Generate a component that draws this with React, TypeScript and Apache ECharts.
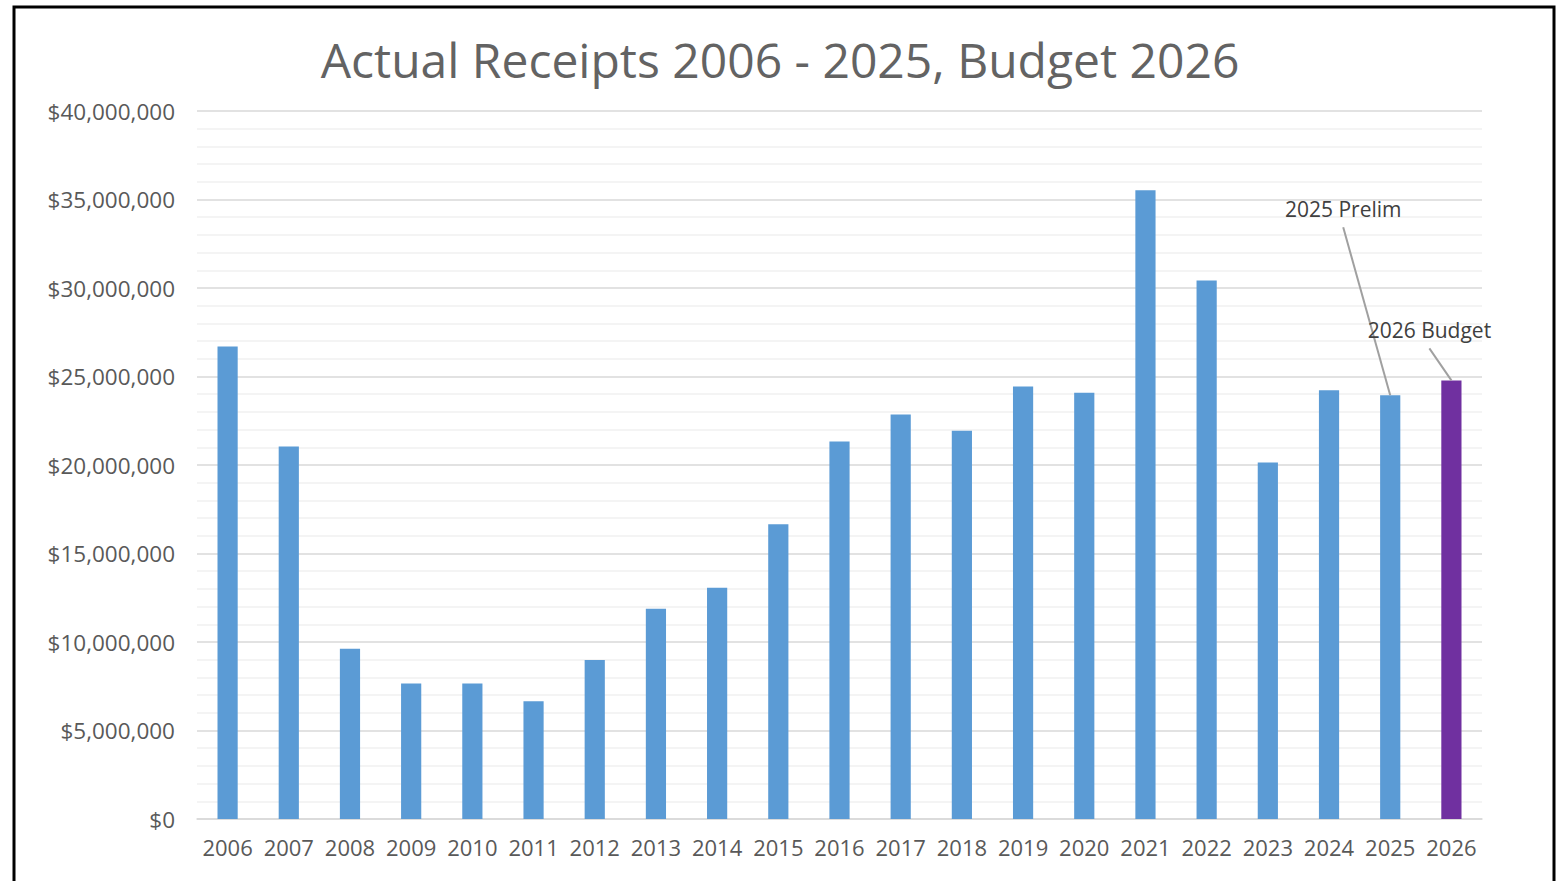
import React, { useEffect, useRef } from "react";
import * as echarts from "echarts";

const years = ["2006","2007","2008","2009","2010","2011","2012","2013","2014","2015","2016","2017","2018","2019","2020","2021","2022","2023","2024","2025","2026"];
const receipts = [26700000,21050000,9620000,7650000,7650000,6650000,8980000,11880000,13070000,16650000,21330000,22850000,21930000,24430000,24080000,35520000,30420000,20140000,24220000,23940000,24780000];
const budgetIndex = 20;
const annotations = [
  { index: 19, text: "2025 Prelim", dx: -47, dy: -186 },
  { index: 20, text: "2026 Budget", dx: -22, dy: -50 },
];

const FONT = "'Open Sans', 'Noto Sans', sans-serif";

export default function App() {
  const ref = useRef<HTMLDivElement>(null);
  useEffect(() => {
    document.body.style.margin = "0";
    const chart = echarts.init(ref.current!, null, { renderer: "svg" });
    chart.setOption({
      animation: false,
      backgroundColor: "#ffffff",
      title: {
        text: "Actual Receipts 2006 - 2025, Budget 2026",
        left: "center",
        top: 30,
        textStyle: { fontFamily: FONT, fontSize: 48, fontWeight: "normal", color: "#636363" },
      },
      grid: { left: 197, right: 78, top: 111, bottom: 62 },
      xAxis: {
        type: "category",
        data: years,
        axisLine: { lineStyle: { color: "#D9D9D9", width: 1.5 } },
        axisTick: { show: false },
        axisLabel: { fontFamily: FONT, fontSize: 22, color: "#595959", margin: 17, interval: 0 },
      },
      yAxis: {
        type: "value",
        min: 0,
        max: 40000000,
        interval: 5000000,
        axisLine: { show: false },
        axisTick: { show: false },
        axisLabel: {
          fontFamily: FONT,
          fontSize: 22.5,
          color: "#595959",
          margin: 22,
          formatter: (v: number) => "$" + v.toLocaleString("en-US"),
        },
        splitLine: { lineStyle: { color: "#D9D9D9", width: 1.5 } },
        minorTick: { show: false, splitNumber: 5 },
        minorSplitLine: { show: true, lineStyle: { color: "#F0F0F0", width: 1.5 } },
      },
      series: [
        {
          type: "bar",
          barWidth: "33%",
          data: receipts.map((v, i) =>
            i === budgetIndex ? { value: v, itemStyle: { color: "#7030A0" } } : v
          ),
          itemStyle: { color: "#5B9BD5" },
        },
      ],
    });

    const g: any[] = [
      {
        type: "rect",
        shape: { x: 14, y: 7, width: 1540, height: 900 },
        style: { fill: "none", stroke: "#000000", lineWidth: 3 },
        z: 100,
      },
    ];
    annotations.forEach((a) => {
      const p = chart.convertToPixel({ seriesIndex: 0 }, [a.index, receipts[a.index]]) as number[];
      const lx = p[0] + a.dx;
      const ly = p[1] + a.dy;
      g.push({
        type: "line",
        shape: { x1: lx, y1: ly + 18, x2: p[0], y2: p[1] },
        style: { stroke: "#A0A0A0", lineWidth: 2 },
        z: 50,
      });
      g.push({
        type: "text",
        x: lx,
        y: ly,
        style: {
          text: a.text,
          fill: "#404040",
          font: `21px ${FONT}`,
          textAlign: "center",
          textVerticalAlign: "middle",
        },
        z: 60,
      });
    });
    chart.setOption({ graphic: g });

    return () => chart.dispose();
  }, []);
  return <div ref={ref} style={{ width: 1560, height: 881, position: "absolute", left: 0, top: 0 }} />;
}
